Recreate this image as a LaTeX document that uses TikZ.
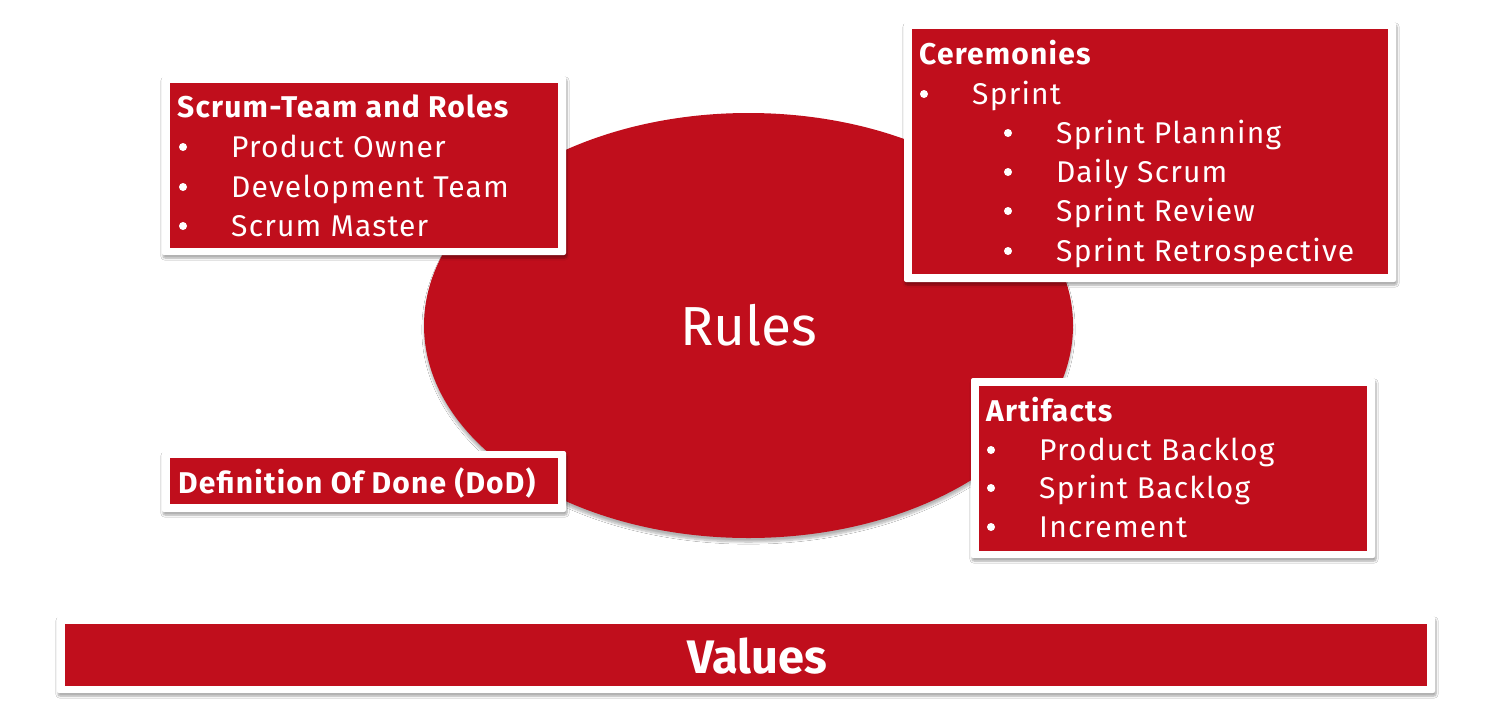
\documentclass[tikz,border=0pt]{standalone}
\usepackage{fontspec}
\setmainfont{Fira Sans}
\newfontfamily\spaced{Fira Sans}[LetterSpace=4]
\usetikzlibrary{shadows.blur}
\definecolor{scrumred}{HTML}{C00E1C}
\tikzset{
  frame/.style={fill=white, rounded corners=2pt,
    blur shadow={shadow xshift=1pt, shadow yshift=-3pt, shadow blur steps=6, shadow opacity=35}},
  panel/.style={fill=scrumred},
  head/.style={anchor=base west, inner sep=0pt, text=white, font=\spaced\fontsize{30}{36}\selectfont\bfseries},
  item/.style={anchor=base west, inner sep=0pt, text=white, font=\spaced\fontsize{30}{36}\selectfont},
  dot/.style={circle, fill=white, inner sep=0pt, minimum size=8pt},
}
\begin{document}
\begin{tikzpicture}[x=1pt, y=-1pt]
\useasboundingbox (0,0) rectangle (1495,723);
\fill[white] (0,0) rectangle (1495,723);

% central ellipse
\fill[scrumred, blur shadow={shadow xshift=0pt, shadow yshift=-4pt, shadow blur steps=8, shadow opacity=30}]
  (748.5,325.5) ellipse [x radius=324.5, y radius=212.5];
\node[inner sep=0pt, text=white, font=\fontsize{55}{60}\selectfont, anchor=base] (rules) at (749,345) {Rules};

% Scrum team and roles
\draw[frame, draw=none] (162,76) rectangle (566,255);
\fill[panel] (170,83) rectangle (558,248);
\node[head] (teamhead) at (177,117) {Scrum-Team and Roles};
\foreach \t/\yy [count=\i] in {Product Owner/157, Development Team/197, Scrum Master/236} {
  \node[dot] (teamdot\i) at (183,{\yy-10}) {};
  \node[item] (team\i) at (231,\yy) {\t};
}

% Ceremonies
\draw[frame, draw=none] (904,22) rectangle (1396,282);
\fill[panel] (912,29) rectangle (1388,274);
\node[head] (cerhead) at (919,64) {Ceremonies};
\node[dot] (cerdot) at (924,94) {};
\node[item] (sprint) at (972,104) {Sprint};
\foreach \t/\yy [count=\i] in {Sprint Planning/143, Daily Scrum/182, Sprint Review/221, Sprint Retrospective/261} {
  \node[dot] (cerdot\i) at (1008,{\yy-10}) {};
  \node[item] (cer\i) at (1056,\yy) {\t};
}

% Definition of Done
\draw[frame, draw=none] (162,451) rectangle (566,512);
\fill[panel] (170,458) rectangle (558,504);
\node[head] (dod) at (178,493) {Definition Of Done (DoD)};

% Artifacts
\draw[frame, draw=none] (971,378) rectangle (1375,558);
\fill[panel] (979,386) rectangle (1367,551);
\node[head] (arthead) at (986,421) {Artifacts};
\foreach \t/\yy [count=\i] in {Product Backlog/460, Sprint Backlog/498, Increment/537} {
  \node[dot] (artdot\i) at (991,{\yy-10}) {};
  \node[item] (art\i) at (1039,\yy) {\t};
}

% Values
\draw[frame, draw=none] (57,616) rectangle (1435,693);
\fill[panel] (65,624) rectangle (1427,686);
\node[inner sep=0pt, text=white, font=\fontsize{47}{52}\selectfont\bfseries, anchor=base] (values) at (757,673) {Values};
\end{tikzpicture}
\end{document}
